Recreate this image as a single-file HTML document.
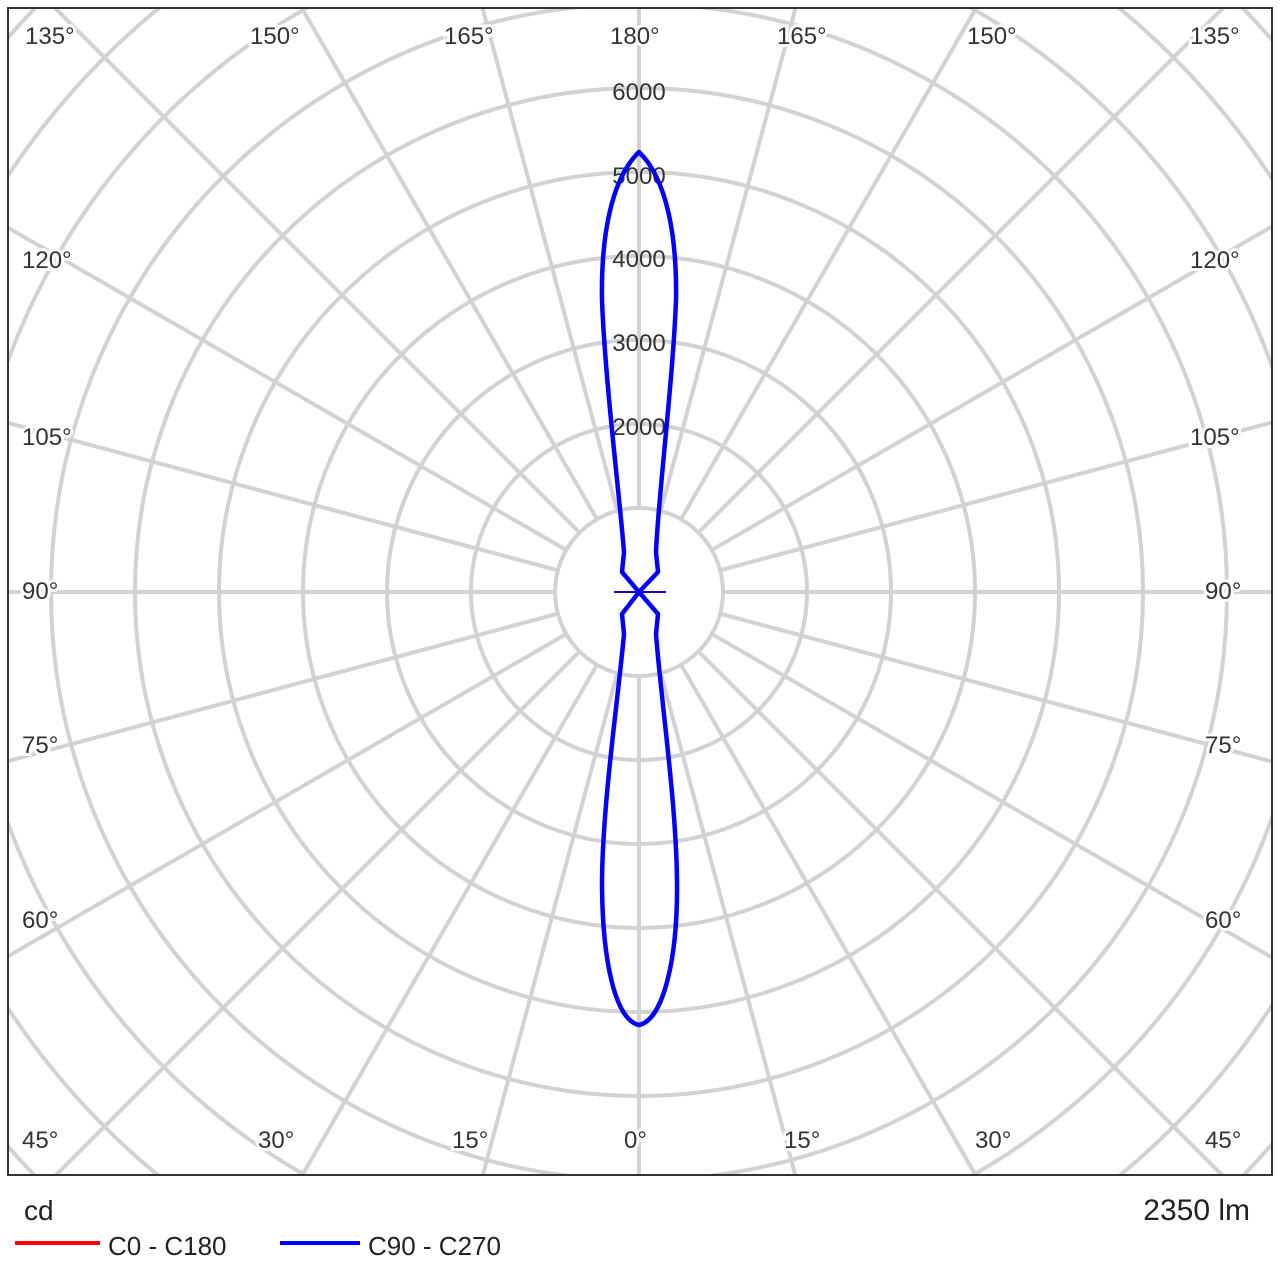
<!DOCTYPE html>
<html><head><meta charset="utf-8"><style>
html,body{margin:0;padding:0;background:#fff;width:1280px;height:1280px;overflow:hidden;}
svg{display:block;font-family:"Liberation Sans",sans-serif;}
</style></head><body>
<svg width="1280" height="1280" viewBox="0 0 1280 1280">
<defs><clipPath id="c"><rect x="9" y="9" width="1262" height="1165"/></clipPath></defs>
<rect x="0" y="0" width="1280" height="1280" fill="#fff"/>
<g clip-path="url(#c)" stroke="#d2d2d2" stroke-width="4" fill="none">
<circle cx="639" cy="592" r="84"/><circle cx="639" cy="592" r="168"/><circle cx="639" cy="592" r="252"/>
<circle cx="639" cy="592" r="336"/><circle cx="639" cy="592" r="420"/><circle cx="639" cy="592" r="504"/>
<circle cx="639" cy="592" r="588"/><circle cx="639" cy="592" r="672"/><circle cx="639" cy="592" r="756"/>
<circle cx="639" cy="592" r="840"/>
</g>
<g clip-path="url(#c)" stroke="#d2d2d2" stroke-width="4">
<line x1="723" y1="592" x2="1700" y2="592" transform="rotate(0 639 592)"/>
<line x1="723" y1="592" x2="1700" y2="592" transform="rotate(15 639 592)"/>
<line x1="723" y1="592" x2="1700" y2="592" transform="rotate(30 639 592)"/>
<line x1="723" y1="592" x2="1700" y2="592" transform="rotate(45 639 592)"/>
<line x1="723" y1="592" x2="1700" y2="592" transform="rotate(60 639 592)"/>
<line x1="723" y1="592" x2="1700" y2="592" transform="rotate(75 639 592)"/>
<line x1="723" y1="592" x2="1700" y2="592" transform="rotate(90 639 592)"/>
<line x1="723" y1="592" x2="1700" y2="592" transform="rotate(105 639 592)"/>
<line x1="723" y1="592" x2="1700" y2="592" transform="rotate(120 639 592)"/>
<line x1="723" y1="592" x2="1700" y2="592" transform="rotate(135 639 592)"/>
<line x1="723" y1="592" x2="1700" y2="592" transform="rotate(150 639 592)"/>
<line x1="723" y1="592" x2="1700" y2="592" transform="rotate(165 639 592)"/>
<line x1="723" y1="592" x2="1700" y2="592" transform="rotate(180 639 592)"/>
<line x1="723" y1="592" x2="1700" y2="592" transform="rotate(195 639 592)"/>
<line x1="723" y1="592" x2="1700" y2="592" transform="rotate(210 639 592)"/>
<line x1="723" y1="592" x2="1700" y2="592" transform="rotate(225 639 592)"/>
<line x1="723" y1="592" x2="1700" y2="592" transform="rotate(240 639 592)"/>
<line x1="723" y1="592" x2="1700" y2="592" transform="rotate(255 639 592)"/>
<line x1="723" y1="592" x2="1700" y2="592" transform="rotate(270 639 592)"/>
<line x1="723" y1="592" x2="1700" y2="592" transform="rotate(285 639 592)"/>
<line x1="723" y1="592" x2="1700" y2="592" transform="rotate(300 639 592)"/>
<line x1="723" y1="592" x2="1700" y2="592" transform="rotate(315 639 592)"/>
<line x1="723" y1="592" x2="1700" y2="592" transform="rotate(330 639 592)"/>
<line x1="723" y1="592" x2="1700" y2="592" transform="rotate(345 639 592)"/>
</g>
<g font-size="24" fill="#333" text-anchor="middle">
<text x="639" y="100">6000</text><text x="639" y="184">5000</text><text x="639" y="267">4000</text>
<text x="639" y="351">3000</text><text x="639" y="435">2000</text>
</g>
<g font-size="24" fill="#333">
<g stroke="#fff" stroke-width="6" paint-order="stroke">
<text x="25" y="44">135°</text><text x="250" y="44">150°</text><text x="444" y="44">165°</text><text x="610" y="44">180°</text>
<text x="777" y="44">165°</text><text x="967" y="44">150°</text><text x="1190" y="44">135°</text>
<text x="22" y="268">120°</text><text x="1190" y="268">120°</text>
<text x="22" y="445">105°</text><text x="1190" y="445">105°</text>
<text x="22" y="599">90°</text><text x="1205" y="599">90°</text>
<text x="22" y="753">75°</text><text x="1205" y="753">75°</text>
<text x="22" y="928">60°</text><text x="1205" y="928">60°</text>
<text x="22" y="1148">45°</text><text x="258" y="1148">30°</text><text x="452" y="1148">15°</text>
<text x="624" y="1148">0°</text><text x="784" y="1148">15°</text><text x="975" y="1148">30°</text><text x="1205" y="1148">45°</text>
</g></g>
<g stroke="#0000ff" stroke-width="4.5" fill="none" stroke-linejoin="round">
<path d="M639 592 L622 572 L624 552 C620 500 605 380 602 300 C601 240 610 180 639 152 C668 180 677 240 676 300 C673 380 658 500 656 552 L658 572 Z"/>
<path d="M639 592 L622 614 L624 634 C618 700 603 800 602 880 C602 960 615 1020 639 1025 C663 1020 678 960 677 880 C676 800 661 700 656 634 L658 614 Z"/>
<line x1="614" y1="592" x2="666" y2="592" stroke-width="2"/>
</g>
<rect x="8" y="8" width="1264" height="1167" fill="none" stroke="#333" stroke-width="2"/>
<text x="24" y="1220" font-size="28" fill="#222">cd</text>
<text x="1250" y="1220" font-size="30" fill="#222" text-anchor="end">2350 lm</text>
<line x1="15" y1="1243" x2="100" y2="1243" stroke="#ff0000" stroke-width="4"/>
<text x="108" y="1255" font-size="26" fill="#222">C0 - C180</text>
<line x1="280" y1="1243" x2="360" y2="1243" stroke="#0000ff" stroke-width="4"/>
<text x="368" y="1255" font-size="26" fill="#222">C90 - C270</text>
</svg>
</body></html>
